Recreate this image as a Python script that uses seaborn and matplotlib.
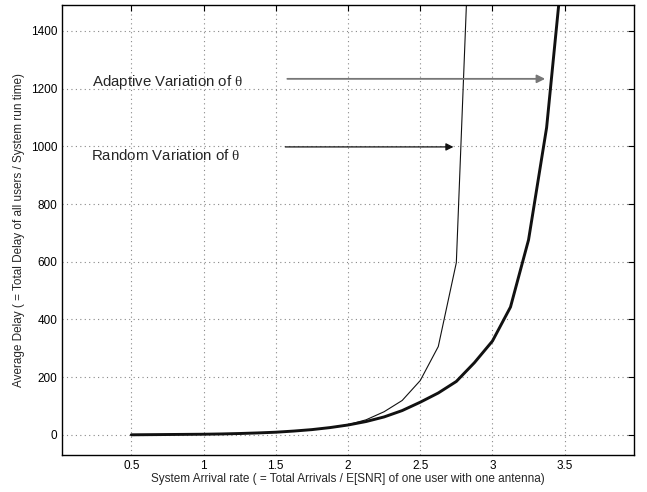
import numpy as np
import pandas as pd
import matplotlib
matplotlib.use("Agg")
import matplotlib.pyplot as plt
import seaborn as sns

x_adaptive = [0.5, 0.625, 0.75, 0.875, 1.0, 1.125, 1.25, 1.375, 1.5, 1.625, 1.75, 1.875,
              2.0, 2.125, 2.25, 2.375, 2.5, 2.625, 2.75, 2.875, 3.0, 3.125, 3.25, 3.375, 3.5]
delay_adaptive = [0, 0.5, 1, 1.5, 2, 3, 4.5, 6.5, 9, 13, 18, 25,
                  34, 46, 62, 84, 113, 145, 185, 250, 325, 443, 676, 1065, 1700]
x_random = [0.5, 0.625, 0.75, 0.875, 1.0, 1.125, 1.25, 1.375, 1.5, 1.625, 1.75, 1.875,
            2.0, 2.125, 2.25, 2.375, 2.5, 2.625, 2.75, 2.875]
delay_random = [0, 0.5, 1, 1.5, 2, 3, 4.5, 6.5, 9, 13, 18, 25,
                35, 52, 80, 119, 188, 306, 597, 2200]

xticks = [0.5, 1, 1.5, 2, 2.5, 3, 3.5]
yticks = [0, 200, 400, 600, 800, 1000, 1200, 1400]

sns.set_style("white")
plt.rcParams['font.family'] = ['Liberation Sans', 'DejaVu Sans']
plt.rcParams['mathtext.fontset'] = 'custom'
plt.rcParams['mathtext.rm'] = 'Liberation Serif'
plt.rcParams['mathtext.it'] = 'Liberation Serif'

fig = plt.figure(figsize=(6.47, 4.92), dpi=100)
ax = fig.add_axes([62/647, 1-455/492, (634-62)/647, (455-5)/492])

df_a = pd.DataFrame({"x": x_adaptive, "y": delay_adaptive})
df_r = pd.DataFrame({"x": x_random, "y": delay_random})
sns.lineplot(data=df_r, x="x", y="y", ax=ax, color="#111111", lw=0.8, sort=False)
sns.lineplot(data=df_a, x="x", y="y", ax=ax, color="#111111", lw=2.1, sort=False)

ax.set_xlim(0.02, 3.98)
ax.set_ylim(-70, 1490)
ax.set_xticks(xticks)
ax.set_xticklabels([f"{t:g}" for t in xticks])
ax.set_yticks(yticks)
ax.grid(True, color="#888888", linestyle=(0, (1, 3)), lw=0.8)
ax.tick_params(direction="in", top=True, right=True, length=4, labelsize=8.5,
               colors="black", width=0.8)
for s in ax.spines.values():
    s.set_color("black")
    s.set_linewidth(1.0)

ax.set_xlabel("System Arrival rate ( = Total Arrivals / E[SNR] of one user with one antenna)",
              fontsize=8.5, labelpad=1)
ax.set_ylabel("Average Delay ( = Total Delay of all users / System run time)",
              fontsize=8.5, labelpad=4)

ax.text(0.23, 1224, r"Adaptive Variation of $\mathrm{\theta}$", fontsize=10.8, va="center", ha="left")
ax.text(0.223, 970, r"Random Variation of $\mathrm{\theta}$", fontsize=10.8, va="center", ha="left")
ax.annotate("", xy=(3.365, 1234), xytext=(1.58, 1234),
            arrowprops=dict(arrowstyle="-|>", color="#777777", lw=1.3,
                            mutation_scale=12, shrinkA=0, shrinkB=0))
ax.annotate("", xy=(2.73, 998), xytext=(1.566, 998),
            arrowprops=dict(arrowstyle="-|>", color="#111111", lw=0.9,
                            mutation_scale=11, shrinkA=0, shrinkB=0))

fig.savefig("out.png", dpi=100)
